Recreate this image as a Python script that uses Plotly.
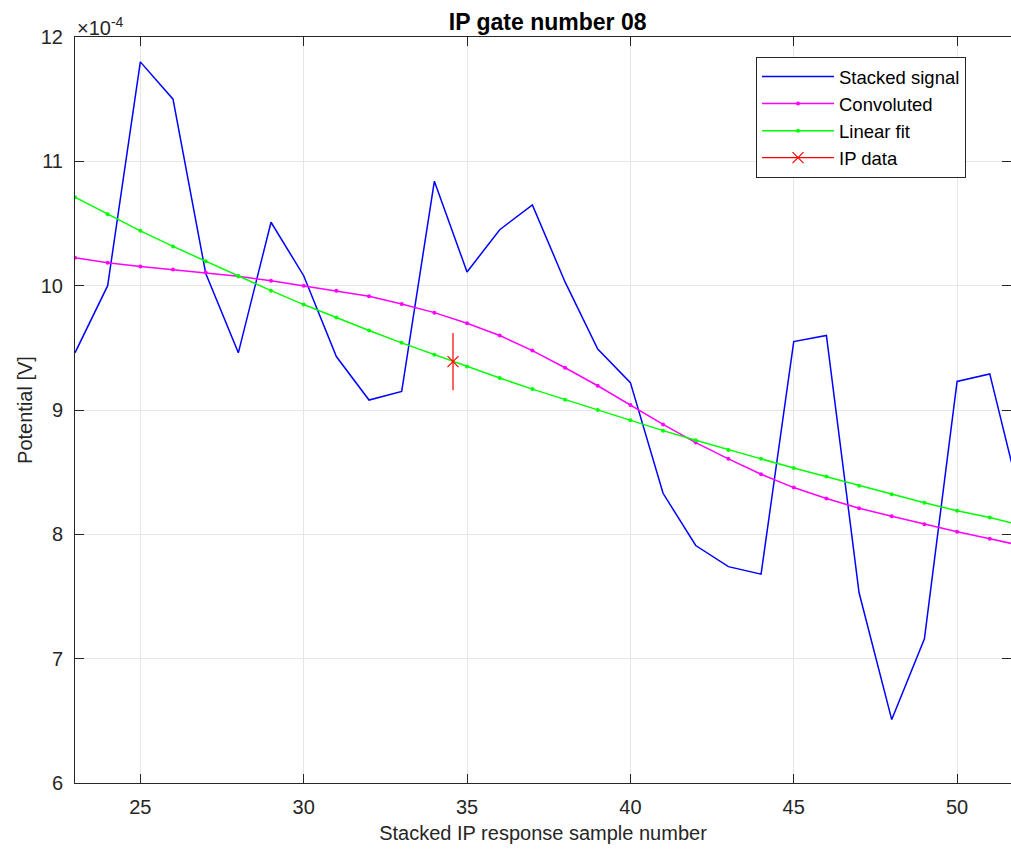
import plotly.graph_objects as go

# ---- data (potential in volts) ----
sample = list(range(23, 53))
stacked = [9.46, 10.00, 11.80, 11.50, 10.10, 9.46, 10.51, 10.08, 9.43, 9.08,
           9.15, 10.84, 10.11, 10.45, 10.65, 10.03, 9.49, 9.22, 8.33, 7.91,
           7.74, 7.68, 9.55, 9.60, 7.53, 6.51, 7.16, 9.23, 9.29, 8.22]
convoluted = [10.225, 10.185, 10.155, 10.13, 10.105, 10.075, 10.04, 10.00, 9.96, 9.915,
              9.853, 9.783, 9.698, 9.599, 9.478, 9.34, 9.195, 9.04, 8.884, 8.738,
              8.607, 8.483, 8.376, 8.288, 8.21, 8.146, 8.082, 8.02, 7.965, 7.907]
linear_fit = [10.712, 10.575, 10.441, 10.316, 10.196, 10.075, 9.96, 9.848, 9.743, 9.639,
              9.54, 9.444, 9.35, 9.257, 9.168, 9.083, 9.0, 8.917, 8.834, 8.756,
              8.679, 8.607, 8.534, 8.465, 8.39, 8.323, 8.254, 8.19, 8.136, 8.07]
scale = 1e-4
stacked_v = [v * scale for v in stacked]
convoluted_v = [v * scale for v in convoluted]
linear_fit_v = [v * scale for v in linear_fit]

ip_x = [34.57]
ip_y = [9.389e-4]
ip_err = [0.23e-4]

x_ticks = [25, 30, 35, 40, 45, 50]
y_tick_labels = [6, 7, 8, 9, 10, 11, 12]

FONT = "Liberation Sans, Arial, Helvetica, sans-serif"
AX = "#262626"

fig = go.Figure()
fig.add_trace(go.Scatter(x=sample, y=stacked_v, mode="lines", name="Stacked signal",
                         line=dict(color="#0000FF", width=1.5)))
fig.add_trace(go.Scatter(x=sample, y=convoluted_v, mode="lines+markers", name="Convoluted",
                         line=dict(color="#FF00FF", width=1.5),
                         marker=dict(color="#FF00FF", size=4)))
fig.add_trace(go.Scatter(x=sample, y=linear_fit_v, mode="lines+markers", name="Linear fit",
                         line=dict(color="#00FF00", width=1.5),
                         marker=dict(color="#00FF00", size=4)))
fig.add_trace(go.Scatter(x=ip_x, y=ip_y, mode="lines+markers", name="IP data",
                         line=dict(color="#FF0000", width=1.2),
                         marker=dict(color="#FF0000", symbol="x-thin", size=11,
                                     line=dict(color="#FF0000", width=1.2)),
                         error_y=dict(type="data", array=ip_err, visible=True,
                                      color="rgba(255,60,60,0.8)", thickness=2, width=0)))

fig.update_layout(
    width=1011, height=853,
    margin=dict(l=75, r=0, t=37, b=70),
    paper_bgcolor="white", plot_bgcolor="white",
    font=dict(family=FONT, color=AX, size=19),
    title=dict(text="<b>IP gate number 08</b>", x=0.505, xref="paper", y=0.974, yanchor="middle",
               font=dict(family=FONT, size=23, color="black")),
    showlegend=True,
    legend=dict(x=(756 - 75) / 936, y=(783 - 57) / 746, xanchor="left", yanchor="top",
                bgcolor="white", bordercolor=AX, borderwidth=1,
                font=dict(family=FONT, size=18.5, color="black"),
                tracegroupgap=0, itemwidth=72),
)
fig.update_xaxes(range=[23, 23 + 936 / 32.67], tickvals=x_ticks,
                 showline=True, linecolor=AX, linewidth=1, mirror="ticks",
                 ticks="inside", ticklen=9, tickcolor=AX,
                 showgrid=True, gridcolor="#E6E6E6", gridwidth=1, zeroline=False,
                 tickfont=dict(size=20, color=AX), ticklabelstandoff=6,
                 title=dict(text="Stacked IP response sample number",
                            font=dict(size=20, color=AX), standoff=8))
fig.update_yaxes(range=[6e-4, 12e-4], tickvals=[v * scale for v in y_tick_labels],
                 ticktext=[str(v) for v in y_tick_labels],
                 showline=True, linecolor=AX, linewidth=1, mirror="ticks",
                 ticks="inside", ticklen=9, tickcolor=AX,
                 showgrid=True, gridcolor="#E6E6E6", gridwidth=1, zeroline=False,
                 tickfont=dict(size=20, color=AX), ticklabelstandoff=7,
                 title=dict(text="Potential [V]", font=dict(size=20, color=AX), standoff=2))
fig.add_annotation(x=0, y=1, xref="paper", yref="paper", xanchor="left", yanchor="bottom",
                   text="×10<sup>-4</sup>", showarrow=False,
                   font=dict(family=FONT, size=20, color=AX), yshift=-4)

fig.write_html("out.html", config={"displayModeBar": False},
               post_script="document.body.style.margin='0';document.body.style.overflow='hidden';")
